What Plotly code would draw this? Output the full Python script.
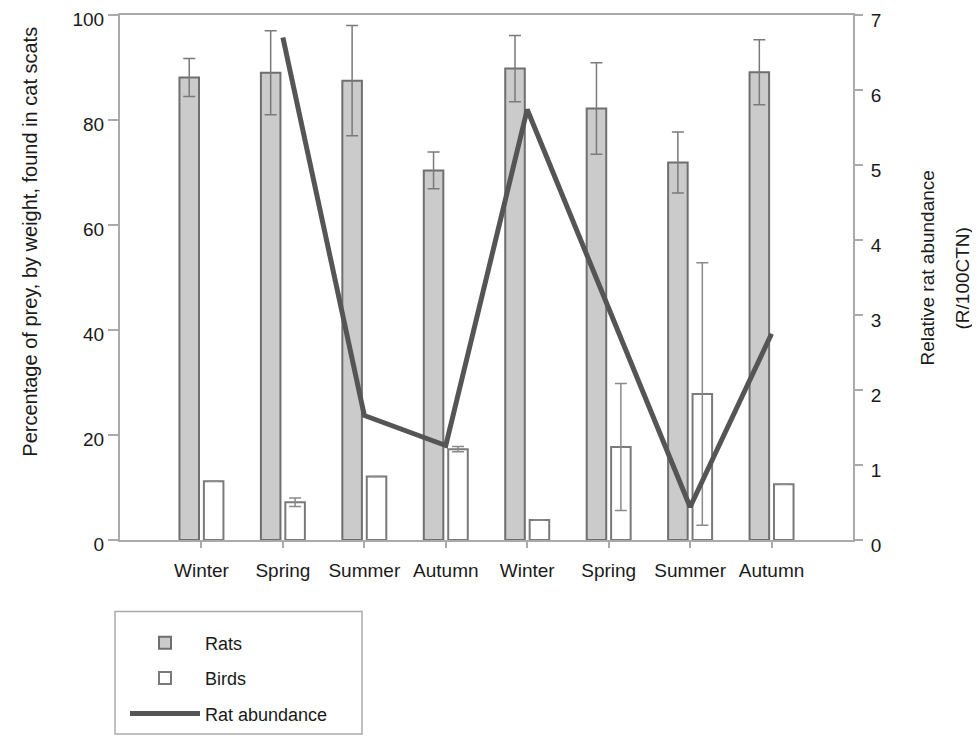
import plotly.graph_objects as go

seasons = ["Winter", "Spring", "Summer", "Autumn", "Winter", "Spring", "Summer", "Autumn"]
x_pos = [0, 1, 2, 3, 4, 5, 6, 7]

rats = [88.1, 89.0, 87.5, 70.4, 89.8, 82.2, 71.9, 89.1]
rats_err = [3.6, 8.0, 10.5, 3.5, 6.3, 8.7, 5.8, 6.2]

birds = [11.2, 7.2, 12.1, 17.3, 3.8, 17.7, 27.8, 10.6]
birds_err = [0, 0.8, 0, 0.5, 0, 12.1, 25.0, 0]

rat_abundance = [None, 6.70, 1.66, 1.26, 5.74, 3.09, 0.44, 2.75]

FONT = "Liberation Sans, Arial, sans-serif"
TXT = "#1a1a1a"
AX = "#aaaaaa"

# plot area in page pixels (page has an 8px body offset)
PL, PR, PT, PB = 120, 853, 15, 543
PW, PH = PR - PL, PB - PT


def px(x):
    return (x - PL) / PW


def py(y):
    return (PB - y) / PH


fig = go.Figure()

fig.add_trace(go.Bar(
    x=x_pos, y=rats, name="Rats", legendgroup="a",
    marker=dict(color="#cbcbcb", line=dict(color="#6f6f6f", width=2)),
    error_y=dict(type="data", array=rats_err, visible=True,
                 color="#7a7a7a", thickness=1.5, width=6),
))
fig.add_trace(go.Bar(
    x=x_pos, y=birds, name="Birds", legendgroup="b",
    marker=dict(color="#ffffff", line=dict(color="#7a7a7a", width=2)),
    error_y=dict(type="data", array=birds_err, visible=True,
                 color="#8a8a8a", thickness=1.5, width=6),
))
fig.add_trace(go.Scatter(
    x=x_pos, y=rat_abundance, name="Rat abundance", yaxis="y2", legendgroup="c",
    mode="lines", line=dict(color="#555555", width=5),
    connectgaps=False,
))

fig.update_layout(
    width=972, height=732,
    margin=dict(l=PL - 8, r=972 - (PR - 8), t=PT - 8, b=732 - (PB - 8)),
    paper_bgcolor="white", plot_bgcolor="white",
    font=dict(family=FONT, size=19, color=TXT),
    barmode="group", bargap=0.4, bargroupgap=0.2,
    showlegend=True,
    legend=dict(
        x=px(125), y=py(628), xanchor="left", yanchor="top",
        borderwidth=0, bgcolor="rgba(0,0,0,0)",
        font=dict(family=FONT, size=18, color=TXT),
        itemwidth=70, tracegroupgap=9,
    ),
    xaxis=dict(
        range=[-1, 8], tickmode="array", tickvals=x_pos, ticktext=seasons,
        showline=True, linecolor=AX, linewidth=2, mirror=True,
        ticks="outside", ticklen=6, tickcolor=AX, tickwidth=1.5,
        showgrid=False, zeroline=False, ticklabelstandoff=6,
        automargin=False, ticklabeloverflow="allow",
        tickfont=dict(family=FONT, size=19, color=TXT),
    ),
    yaxis=dict(
        range=[0, 100], tickvals=[0, 20, 40, 60, 80, 100],
        showline=True, linecolor=AX, linewidth=2,
        ticks="outside", ticklen=10, tickcolor=AX, tickwidth=1.5,
        showgrid=False, zeroline=False, automargin=False,
        ticklabeloverflow="allow", ticklabelshift=4,
        tickfont=dict(family=FONT, size=19, color=TXT),
    ),
    yaxis2=dict(
        range=[0, 7], tickvals=[0, 1, 2, 3, 4, 5, 6, 7],
        overlaying="y", side="right",
        showline=True, linecolor=AX, linewidth=2,
        ticks="outside", ticklen=8, tickcolor=AX, tickwidth=1.5,
        showgrid=False, zeroline=False, automargin=False,
        ticklabeloverflow="allow", ticklabelstandoff=4, ticklabelshift=5,
        tickfont=dict(family=FONT, size=19, color=TXT),
    ),
    shapes=[
        dict(type="rect", xref="paper", yref="paper",
             x0=px(115), x1=px(362), y0=py(738), y1=py(615),
             line=dict(color="#aaaaaa", width=1.5), fillcolor="rgba(0,0,0,0)",
             layer="below"),
    ],
    annotations=[
        dict(text="Percentage of prey, by weight, found in cat scats",
             xref="paper", yref="paper", x=px(30), y=py(243),
             xanchor="center", yanchor="middle", textangle=-90,
             showarrow=False, font=dict(family=FONT, size=20, color=TXT)),
        dict(text="Relative rat abundance",
             xref="paper", yref="paper", x=px(928), y=py(270),
             xanchor="center", yanchor="middle", textangle=-90,
             showarrow=False, font=dict(family=FONT, size=19, color=TXT)),
        dict(text="(R/100CTN)",
             xref="paper", yref="paper", x=px(962), y=py(280),
             xanchor="center", yanchor="middle", textangle=-90,
             showarrow=False, font=dict(family=FONT, size=19, color=TXT)),
    ],
)

fig.write_html("out.html", config={"displayModeBar": False})
